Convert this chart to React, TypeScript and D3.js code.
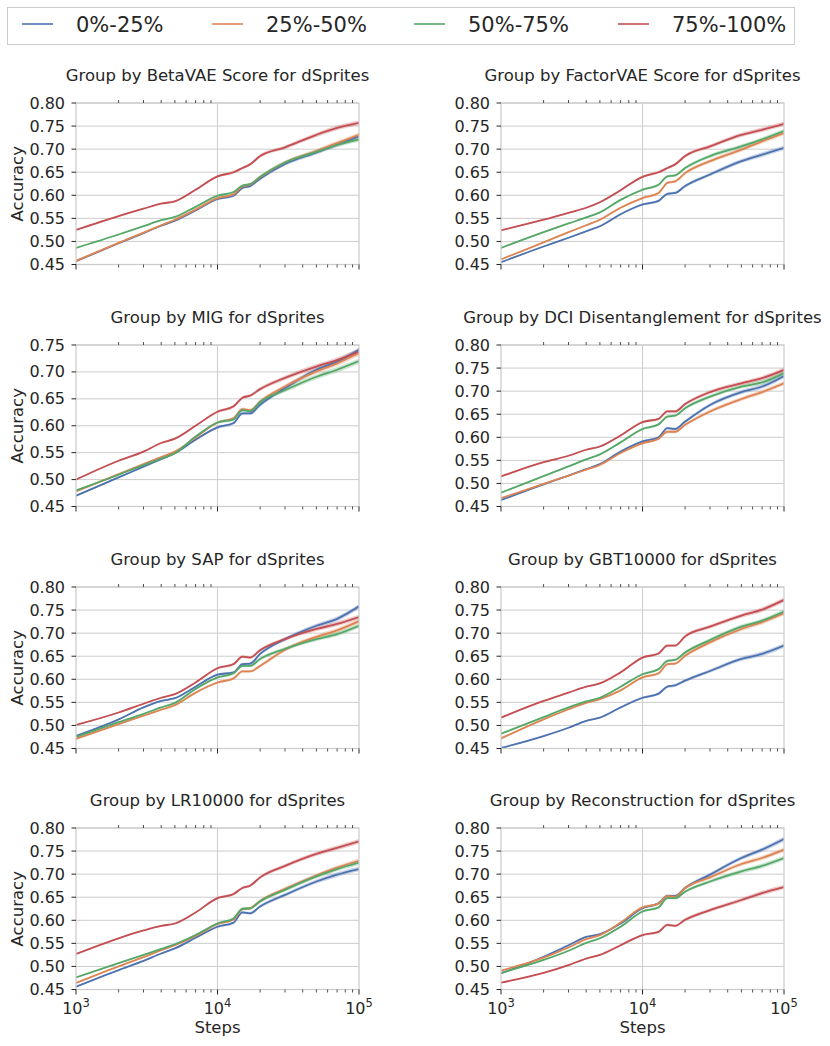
import React, { useEffect } from "react";
import * as d3 from "d3";

// training steps at which the accuracy was sampled
const steps = [1000, 2000, 3000, 4000, 5000, 7000, 10000, 13000, 15000, 17000, 20000, 30000, 50000, 70000, 100000];
// half width of the shaded band
const bandHalf = [0.0015, 0.0015, 0.0015, 0.0015, 0.002, 0.002, 0.0025, 0.003, 0.003, 0.003, 0.0035, 0.004, 0.0045, 0.005, 0.005];

const groups = ["0%-25%", "25%-50%", "50%-75%", "75%-100%"];
const colors = ["#4C72B0", "#DD8452", "#55A868", "#C44E52"];

const ticksHigh = [0.45, 0.5, 0.55, 0.6, 0.65, 0.7, 0.75, 0.8];
const ticksMig = [0.45, 0.5, 0.55, 0.6, 0.65, 0.7, 0.75];

// rows: 0%-25%, 25%-50%, 50%-75%, 75%-100%
const betaVae = [
  [0.457, 0.496, 0.518, 0.534, 0.545, 0.567, 0.592, 0.599, 0.616, 0.620, 0.636, 0.668, 0.693, 0.710, 0.728],
  [0.458, 0.497, 0.519, 0.535, 0.547, 0.569, 0.594, 0.602, 0.619, 0.623, 0.639, 0.671, 0.696, 0.713, 0.731],
  [0.486, 0.515, 0.533, 0.546, 0.553, 0.575, 0.599, 0.607, 0.621, 0.624, 0.640, 0.671, 0.694, 0.709, 0.721],
  [0.525, 0.555, 0.571, 0.582, 0.587, 0.612, 0.641, 0.650, 0.659, 0.667, 0.685, 0.704, 0.731, 0.746, 0.757],
];
const factorVae = [
  [0.455, 0.489, 0.508, 0.522, 0.533, 0.559, 0.580, 0.588, 0.603, 0.605, 0.620, 0.645, 0.674, 0.688, 0.703],
  [0.461, 0.498, 0.520, 0.535, 0.547, 0.573, 0.594, 0.605, 0.627, 0.630, 0.648, 0.674, 0.699, 0.717, 0.735],
  [0.486, 0.520, 0.539, 0.552, 0.563, 0.590, 0.612, 0.623, 0.641, 0.643, 0.659, 0.685, 0.706, 0.721, 0.739],
  [0.524, 0.547, 0.562, 0.573, 0.585, 0.611, 0.640, 0.650, 0.659, 0.667, 0.685, 0.706, 0.731, 0.742, 0.755],
];
const mig = [
  [0.470, 0.504, 0.524, 0.538, 0.549, 0.574, 0.597, 0.605, 0.623, 0.623, 0.639, 0.670, 0.704, 0.719, 0.741],
  [0.478, 0.510, 0.529, 0.542, 0.552, 0.578, 0.606, 0.614, 0.631, 0.629, 0.645, 0.673, 0.701, 0.716, 0.735],
  [0.480, 0.509, 0.527, 0.539, 0.549, 0.580, 0.606, 0.612, 0.629, 0.627, 0.644, 0.666, 0.691, 0.704, 0.720],
  [0.500, 0.535, 0.552, 0.568, 0.576, 0.600, 0.626, 0.636, 0.652, 0.656, 0.668, 0.689, 0.710, 0.722, 0.738],
];
const dci = [
  [0.464, 0.498, 0.517, 0.531, 0.542, 0.569, 0.591, 0.600, 0.620, 0.618, 0.634, 0.670, 0.698, 0.710, 0.733],
  [0.468, 0.499, 0.517, 0.530, 0.540, 0.566, 0.587, 0.597, 0.612, 0.612, 0.627, 0.656, 0.683, 0.698, 0.717],
  [0.480, 0.516, 0.537, 0.552, 0.563, 0.589, 0.618, 0.628, 0.645, 0.647, 0.663, 0.688, 0.710, 0.719, 0.739],
  [0.515, 0.546, 0.560, 0.573, 0.580, 0.604, 0.633, 0.640, 0.656, 0.656, 0.672, 0.698, 0.717, 0.728, 0.746],
];
const sap = [
  [0.477, 0.513, 0.539, 0.553, 0.559, 0.584, 0.610, 0.615, 0.633, 0.634, 0.655, 0.687, 0.716, 0.731, 0.758],
  [0.471, 0.503, 0.521, 0.534, 0.544, 0.571, 0.593, 0.602, 0.617, 0.617, 0.629, 0.664, 0.692, 0.706, 0.726],
  [0.475, 0.507, 0.525, 0.539, 0.549, 0.579, 0.604, 0.613, 0.629, 0.629, 0.644, 0.666, 0.687, 0.698, 0.716],
  [0.501, 0.528, 0.547, 0.560, 0.568, 0.593, 0.624, 0.633, 0.649, 0.647, 0.663, 0.687, 0.709, 0.720, 0.735],
];
const gbt = [
  [0.451, 0.477, 0.495, 0.510, 0.517, 0.539, 0.560, 0.569, 0.584, 0.587, 0.597, 0.618, 0.644, 0.655, 0.673],
  [0.472, 0.513, 0.535, 0.549, 0.557, 0.576, 0.604, 0.613, 0.633, 0.634, 0.651, 0.680, 0.709, 0.724, 0.743],
  [0.482, 0.518, 0.539, 0.552, 0.560, 0.584, 0.611, 0.622, 0.640, 0.642, 0.658, 0.685, 0.714, 0.727, 0.747],
  [0.517, 0.553, 0.571, 0.584, 0.591, 0.615, 0.647, 0.656, 0.673, 0.673, 0.693, 0.714, 0.738, 0.751, 0.772],
];
const lr = [
  [0.456, 0.492, 0.512, 0.528, 0.539, 0.562, 0.586, 0.595, 0.617, 0.615, 0.630, 0.655, 0.684, 0.699, 0.711],
  [0.464, 0.500, 0.520, 0.535, 0.546, 0.566, 0.592, 0.602, 0.624, 0.626, 0.642, 0.668, 0.697, 0.714, 0.729],
  [0.476, 0.507, 0.525, 0.538, 0.548, 0.568, 0.593, 0.604, 0.625, 0.626, 0.641, 0.666, 0.695, 0.711, 0.725],
  [0.527, 0.561, 0.578, 0.588, 0.593, 0.617, 0.648, 0.657, 0.670, 0.675, 0.693, 0.718, 0.744, 0.757, 0.771],
];
const recon = [
  [0.485, 0.521, 0.546, 0.564, 0.570, 0.593, 0.626, 0.637, 0.653, 0.653, 0.670, 0.699, 0.735, 0.753, 0.776],
  [0.491, 0.519, 0.541, 0.559, 0.568, 0.595, 0.628, 0.636, 0.653, 0.651, 0.670, 0.693, 0.722, 0.735, 0.753],
  [0.486, 0.514, 0.534, 0.551, 0.561, 0.586, 0.619, 0.628, 0.648, 0.648, 0.662, 0.684, 0.706, 0.718, 0.735],
  [0.465, 0.486, 0.503, 0.517, 0.525, 0.546, 0.568, 0.575, 0.590, 0.588, 0.601, 0.622, 0.644, 0.659, 0.672],
];

const panels = [
  { title: "Group by BetaVAE Score for dSprites", data: betaVae, ticks: ticksHigh },
  { title: "Group by FactorVAE Score for dSprites", data: factorVae, ticks: ticksHigh },
  { title: "Group by MIG for dSprites", data: mig, ticks: ticksMig },
  { title: "Group by DCI Disentanglement for dSprites", data: dci, ticks: ticksHigh },
  { title: "Group by SAP for dSprites", data: sap, ticks: ticksHigh },
  { title: "Group by GBT10000 for dSprites", data: gbt, ticks: ticksHigh },
  { title: "Group by LR10000 for dSprites", data: lr, ticks: ticksHigh },
  { title: "Group by Reconstruction for dSprites", data: recon, ticks: ticksHigh },
];

const W = 830;
const H = 1046;
const colX = [76, 501];
const rowY = [103, 345, 587, 828];
const pw = 283;
const ph = 161.5;
const ink = "#262626";
const grid = "#cccccc";
const font = "'DejaVu Sans', sans-serif";

const Panel: React.FC<{ p: (typeof panels)[number]; left: number; top: number; bottom: boolean }> = ({
  p,
  left,
  top,
  bottom,
}) => {
  const x = d3.scaleLog().domain([1000, 100000]).range([left, left + pw]);
  const y = d3
    .scaleLinear()
    .domain([p.ticks[0], p.ticks[p.ticks.length - 1]])
    .range([top + ph, top]);
  const allTicks = x.ticks();
  const isMajor = (t: number) => Math.abs(Math.log10(t) - Math.round(Math.log10(t))) < 1e-9;
  const minor = allTicks.filter((t) => !isMajor(t));
  const major = allTicks.filter(isMajor);

  const line = d3
    .line<number>()
    .x((_, i) => x(steps[i]))
    .y((d) => y(d))
    .curve(d3.curveMonotoneX);
  const band = d3
    .area<number>()
    .x((_, i) => x(steps[i]))
    .y0((d, i) => y(d - bandHalf[i]))
    .y1((d, i) => y(d + bandHalf[i]))
    .curve(d3.curveMonotoneX);

  const clipId = `clip-${left}-${top}`;

  return (
    <g>
      <defs>
        <clipPath id={clipId}>
          <rect x={left} y={top} width={pw} height={ph} />
        </clipPath>
      </defs>
      <text x={left + pw / 2} y={top - 22} textAnchor="middle" fontSize={16.5} fill={ink}>
        {p.title}
      </text>
      {p.ticks.map((t) => (
        <line key={t} x1={left} x2={left + pw} y1={y(t)} y2={y(t)} stroke={grid} strokeWidth={1} />
      ))}
      <line x1={x(10000)} x2={x(10000)} y1={top} y2={top + ph} stroke={grid} strokeWidth={1} />
      <g clipPath={`url(#${clipId})`}>
        {p.data.map((s, i) => (
          <path key={"b" + i} d={band(s) ?? ""} fill={colors[i]} opacity={0.3} />
        ))}
        {p.data.map((s, i) => (
          <path key={"l" + i} d={line(s) ?? ""} fill="none" stroke={colors[i]} strokeWidth={1.8} />
        ))}
      </g>
      <rect x={left} y={top} width={pw} height={ph} fill="none" stroke={grid} strokeWidth={1.25} />
      {p.ticks.map((t) => (
        <g key={t}>
          <line x1={left - 4.5} x2={left} y1={y(t)} y2={y(t)} stroke={ink} strokeWidth={1} />
          <text x={left - 11} y={y(t) + 5.5} textAnchor="end" fontSize={16} fill={ink}>
            {d3.format(".2f")(t)}
          </text>
        </g>
      ))}
      {minor.map((t) => (
        <g key={t}>
          <line x1={x(t)} x2={x(t)} y1={top - 3} y2={top} stroke={ink} strokeWidth={0.8} />
          <line x1={x(t)} x2={x(t)} y1={top + ph} y2={top + ph + 3} stroke={ink} strokeWidth={0.8} />
        </g>
      ))}
      {major.map((t) => (
        <line key={t} x1={x(t)} x2={x(t)} y1={top + ph} y2={top + ph + 5} stroke={ink} strokeWidth={1} />
      ))}
      {bottom &&
        major.map((t) => (
          <text key={"l" + t} x={x(t)} y={top + ph + 24} textAnchor="middle" fontSize={16} fill={ink}>
            <tspan>10</tspan>
            <tspan dy={-7} fontSize={11.5}>
              {Math.round(Math.log10(t))}
            </tspan>
          </text>
        ))}
      {bottom && (
        <text x={left + pw / 2} y={top + ph + 43} textAnchor="middle" fontSize={16.5} fill={ink}>
          Steps
        </text>
      )}
      {left === colX[0] && (
        <text
          transform={`translate(${left - 53},${top + ph / 2}) rotate(-90)`}
          textAnchor="middle"
          fontSize={16.5}
          fill={ink}
        >
          Accuracy
        </text>
      )}
    </g>
  );
};

const legendX = [22, 212, 414, 618];

const App: React.FC = () => {
  useEffect(() => {
    document.body.style.margin = "0";
  }, []);

  return (
    <svg width={W} height={H} style={{ display: "block", fontFamily: font }}>
      <rect x={0} y={0} width={W} height={H} fill="#ffffff" />
      <rect x={7.5} y={7.5} width={787} height={37} fill="#ffffff" stroke={grid} strokeWidth={1} />
      {groups.map((g, i) => (
        <g key={g}>
          <line x1={legendX[i]} x2={legendX[i] + 31} y1={24} y2={24} stroke={colors[i]} strokeWidth={1.6} />
          <text x={legendX[i] + 54} y={32} fontSize={21} fill={ink}>
            {g}
          </text>
        </g>
      ))}
      {panels.map((p, i) => (
        <Panel
          key={p.title}
          p={p}
          left={colX[i % 2]}
          top={rowY[Math.floor(i / 2)]}
          bottom={i >= 6}
        />
      ))}
    </svg>
  );
};

export default App;
